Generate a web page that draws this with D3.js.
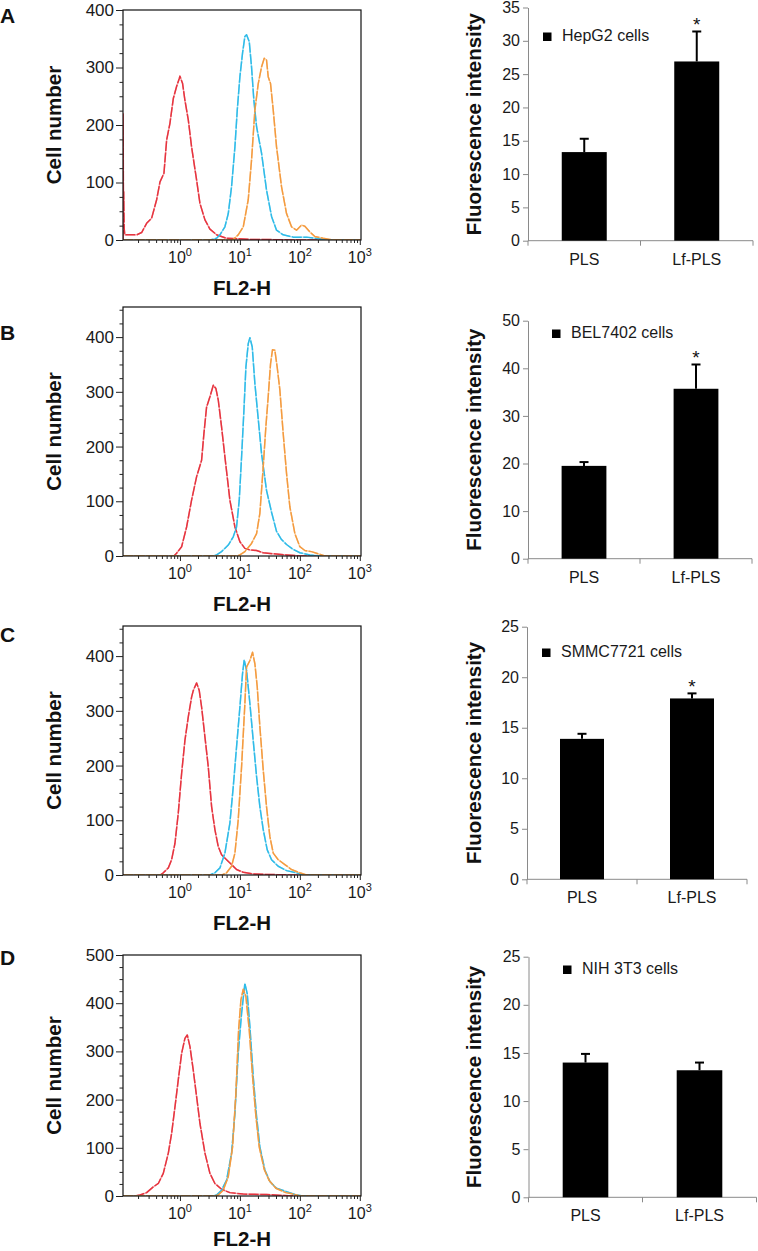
<!DOCTYPE html>
<html><head><meta charset="utf-8">
<script src="https://cdn.jsdelivr.net/npm/d3@7"></script>
<style>html,body{margin:0;padding:0;background:#fff;} svg{display:block;}</style>
</head><body>
<svg id="chart" width="758" height="1251"></svg>
<script>
// ---------- DATA ----------
// Histogram curves: [log10(FL2-H), cell number]
const A_red = [[-0.95,0],[-0.95,220],[-0.946,170],[-0.943,60],[-0.938,84],[-0.93,20],[-0.92,9],[-0.861,9],[-0.722,9],[-0.639,13],[-0.556,29],[-0.472,38],[-0.389,70],[-0.333,101],[-0.267,116],[-0.222,174],[-0.167,203],[-0.111,246],[-0.056,267],[-0.011,281],[0,285],[0.044,272],[0.083,243],[0.139,209],[0.194,162],[0.278,104],[0.333,64],[0.417,35],[0.5,19],[0.611,9],[0.778,3],[1.167,1],[1.72,0.5],[2.0,0],[3.02,0]];
const A_cyan = [[-0.95,0],[0.5,0],[0.611,3],[0.667,9],[0.75,23],[0.806,46],[0.861,93],[0.917,162],[0.956,226],[1.0,284],[1.044,325],[1.083,354],[1.111,357],[1.156,345],[1.194,301],[1.233,243],[1.278,197],[1.361,151],[1.444,87],[1.528,41],[1.611,17],[1.722,9],[1.889,5],[2.111,5],[2.333,2],[2.444,0],[3.02,0]];
const A_orange = [[-0.95,0],[0.8,0],[0.889,1],[0.972,9],[1.056,23],[1.139,70],[1.194,139],[1.25,226],[1.306,272],[1.361,301],[1.406,316],[1.444,313],[1.472,284],[1.511,272],[1.556,226],[1.611,162],[1.694,93],[1.778,46],[1.861,23],[1.944,17],[2.028,26],[2.083,24],[2.167,14],[2.25,6],[2.389,3],[2.5,1],[2.55,0],[3.02,0]];

const B_red = [[-0.95,0],[-0.1,0],[-0.056,5],[0.028,17],[0.111,53],[0.194,102],[0.278,145],[0.361,175],[0.4,224],[0.444,272],[0.5,291],[0.556,312],[0.6,306],[0.639,285],[0.694,236],[0.75,181],[0.833,102],[0.917,53],[1.0,26],[1.083,14],[1.167,11],[1.278,10],[1.389,6],[1.556,4],[1.778,2],[2.0,0],[3.02,0]];
const B_cyan = [[-0.95,0],[0.55,0],[0.611,2],[0.694,8],[0.806,20],[0.889,35],[0.944,53],[0.989,102],[1.028,181],[1.067,266],[1.1,345],[1.139,388],[1.167,399],[1.206,382],[1.25,315],[1.306,250],[1.361,187],[1.444,120],[1.528,80],[1.611,45],[1.694,30],[1.778,21],[1.889,12],[2.0,6],[2.167,2],[2.333,0],[3.02,0]];
const B_orange = [[-0.95,0],[0.95,0],[1.0,2],[1.083,8],[1.194,23],[1.278,41],[1.333,78],[1.389,163],[1.433,236],[1.472,291],[1.511,351],[1.544,377],[1.583,376],[1.622,345],[1.667,303],[1.722,224],[1.778,151],[1.833,90],[1.917,41],[2.0,17],[2.083,10],[2.194,8],[2.306,4],[2.417,0],[3.02,0]];

const C_red = [[-0.95,0],[-0.33,0],[-0.278,4],[-0.194,13],[-0.139,28],[-0.083,58],[-0.028,113],[0.028,186],[0.083,246],[0.139,289],[0.194,325],[0.222,337],[0.278,351],[0.322,337],[0.361,307],[0.417,252],[0.472,198],[0.528,125],[0.583,83],[0.639,52],[0.694,37],[0.778,28],[0.861,19],[0.944,10],[1.056,5],[1.222,2],[1.444,1],[1.889,0],[3.02,0]];
const C_cyan = [[-0.95,0],[0.5,0],[0.583,4],[0.667,13],[0.75,40],[0.833,95],[0.889,161],[0.944,234],[1.0,307],[1.044,368],[1.072,393],[1.111,374],[1.167,313],[1.222,246],[1.278,180],[1.333,125],[1.389,83],[1.456,46],[1.528,28],[1.639,16],[1.778,8],[1.944,4],[2.056,0],[3.02,0]];
const C_orange = [[-0.95,0],[0.7,0],[0.778,4],[0.861,16],[0.917,40],[0.972,101],[1.028,198],[1.083,313],[1.111,380],[1.167,392],[1.211,407],[1.25,386],[1.289,344],[1.333,271],[1.389,192],[1.444,125],[1.5,70],[1.556,40],[1.639,28],[1.75,19],[1.861,10],[2.0,4],[2.111,0],[3.02,0]];

const D_red = [[-0.95,0],[-0.75,0],[-0.667,2],[-0.556,7],[-0.444,19],[-0.361,26],[-0.278,47],[-0.194,89],[-0.139,130],[-0.083,185],[-0.028,241],[0.028,296],[0.083,327],[0.122,334],[0.167,310],[0.222,261],[0.278,206],[0.333,151],[0.417,89],[0.5,47],[0.583,26],[0.694,14],[0.833,7],[1.056,4],[1.444,3],[1.889,0],[3.02,0]];
const D_cyan = [[-0.95,0],[0.55,0],[0.611,2],[0.694,12],[0.778,33],[0.861,89],[0.917,172],[0.972,296],[1.028,379],[1.083,441],[1.122,420],[1.167,351],[1.222,248],[1.278,165],[1.333,102],[1.417,54],[1.5,30],[1.611,16],[1.778,9],[1.944,2],[2.056,0],[3.02,0]];
const D_orange = [[-0.95,0],[0.58,0],[0.639,2],[0.722,12],[0.806,40],[0.878,102],[0.933,213],[0.978,344],[1.017,407],[1.056,429],[1.1,414],[1.156,344],[1.211,248],[1.267,165],[1.322,102],[1.406,55],[1.489,32],[1.6,16],[1.767,7],[1.889,4],[2.0,0],[3.02,0]];

const histYMax = [400, 455, 455, 500];
const histXTicks = [1, 10, 100, 1000];
const histXTickExp = ["0", "1", "2", "3"];

// Bar charts
const barCategories = ["PLS", "Lf-PLS"];
const barMeanA = [13.3, 26.9], barErrA = [2.0, 4.5], sigA = ["", "*"];
const barMeanB = [19.5, 35.7], barErrB = [0.8, 5.1], sigB = ["", "*"];
const barMeanC = [13.9, 17.9], barErrC = [0.5, 0.5], sigC = ["", "*"];
const barMeanD = [14.0, 13.2], barErrD = [0.9, 0.8], sigD = ["", ""];
const barLegends = ["HepG2 cells", "BEL7402 cells", "SMMC7721 cells", "NIH 3T3 cells"];
const barYMax = [35, 50, 25, 25];
const barYStep = [5, 10, 5, 5];
const panelLetters = ["A", "B", "C", "D"];

// ---------- LAYOUT ----------
const FONT = "'Liberation Sans', Arial, Helvetica, sans-serif";
const COLORS = ["#e6343f", "#2fbbe8", "#f49b3f"];
const histLayout = [
  {top:10, bottom:240, letterY:23},
  {top:307, bottom:556, letterY:340},
  {top:626, bottom:875, letterY:642},
  {top:955, bottom:1196, letterY:965}
];
const barLayout = [
  {top:7.5, bottom:240.7, x0:528, x1:753, lx:543, ly:41},
  {top:320.7, bottom:558.7, x0:528, x1:752, lx:552, ly:338},
  {top:626.7, bottom:879.3, x0:527, x1:747, lx:542, ly:657},
  {top:956.7, bottom:1197.3, x0:528.5, x1:756.5, lx:563, ly:974}
];
const histCurves = [[A_red,A_cyan,A_orange],[B_red,B_cyan,B_orange],[C_red,C_cyan,C_orange],[D_red,D_cyan,D_orange]];
const barMeans = [barMeanA, barMeanB, barMeanC, barMeanD];
const barErrs = [barErrA, barErrB, barErrC, barErrD];
const barSigs = [sigA, sigB, sigC, sigD];

const svg = d3.select("#chart").style("font-family", FONT);

histLayout.forEach((L, i) => {
  const g = svg.append("g");
  const x = d3.scaleLog().domain([Math.pow(10,-0.95), Math.pow(10,3.02)]).range([123, 361]);
  const y = d3.scaleLinear().domain([0, histYMax[i]]).range([L.bottom, L.top]);

  svg.append("text").attr("x", 0).attr("y", L.letterY).attr("font-size", 21).attr("font-weight", "bold")
    .attr("fill", "#111").text(panelLetters[i]);

  const cid = "clip" + i;
  g.append("clipPath").attr("id", cid).append("rect")
    .attr("x", 123).attr("y", L.top).attr("width", 238).attr("height", L.bottom - L.top);

  const line = d3.line().x(d => x(Math.pow(10, d[0]))).y(d => y(d[1]));
  const cg = g.append("g").attr("clip-path", `url(#${cid})`);
  histCurves[i].forEach((c, k) => {
    cg.append("path").datum(c).attr("d", line).attr("fill", "none")
      .attr("stroke", COLORS[k]).attr("stroke-opacity", 0.45).attr("stroke-width", 1.4)
      .attr("stroke-linejoin", "round");
    cg.append("path").datum(c).attr("d", line).attr("fill", "none")
      .attr("stroke", COLORS[k]).attr("stroke-width", 1.5)
      .attr("stroke-dasharray", "10 1.5").attr("stroke-linejoin", "round");
  });

  g.append("rect").attr("x", 123).attr("y", L.top).attr("width", 238).attr("height", L.bottom - L.top)
    .attr("fill", "none").attr("stroke", "#111").attr("stroke-width", 1.2);

  const yMajor = d3.range(0, histYMax[i] + 1, 100);
  const yMinor = d3.range(0, histYMax[i] + 1, 25).filter(v => v % 100 !== 0);
  const ya = g.append("g").attr("transform", "translate(123,0)")
    .call(d3.axisLeft(y).tickValues(yMajor).tickSize(7).tickPadding(2).tickFormat(d3.format("d")));
  ya.select(".domain").remove();
  ya.selectAll("line").attr("stroke", "#222");
  ya.selectAll("text").attr("font-size", 17).attr("fill", "#1a1a1a").attr("font-family", FONT);
  const ym = g.append("g").attr("transform", "translate(123,0)")
    .call(d3.axisLeft(y).tickValues(yMinor).tickSize(3.5).tickFormat(""));
  ym.select(".domain").remove();
  ym.selectAll("line").attr("stroke", "#222");

  const xMinor = [];
  [-1, 0, 1, 2].forEach(e => { for (let m = 2; m <= 9; m++) { const v = m * Math.pow(10, e); if (v > x.domain()[0]) xMinor.push(v); } });
  const xa = g.append("g").attr("transform", `translate(0,${L.bottom})`)
    .call(d3.axisBottom(x).tickValues(histXTicks).tickSize(5).tickFormat(""));
  xa.select(".domain").remove();
  xa.selectAll("line").attr("stroke", "#222");
  const xm = g.append("g").attr("transform", `translate(0,${L.bottom})`)
    .call(d3.axisBottom(x).tickValues(xMinor).tickSize(3).tickFormat(""));
  xm.select(".domain").remove();
  xm.selectAll("line").attr("stroke", "#222");

  histXTicks.forEach((v, k) => {
    const t = g.append("text").attr("x", x(v)).attr("y", L.bottom + 23).attr("text-anchor", "middle")
      .attr("font-size", 16).attr("fill", "#1a1a1a");
    t.append("tspan").text("10");
    t.append("tspan").attr("dy", -7).attr("font-size", 11).text(histXTickExp[k]);
  });

  g.append("text").attr("x", 242).attr("y", Math.min(L.bottom + 55, 1246)).attr("text-anchor", "middle")
    .attr("font-size", 20.5).attr("font-weight", "bold").attr("fill", "#111").text("FL2-H");
  g.append("text").attr("transform", `translate(61,${(L.top + L.bottom) / 2}) rotate(-90)`)
    .attr("text-anchor", "middle").attr("font-size", 20.5).attr("font-weight", "bold").attr("fill", "#111")
    .text("Cell number");
});

barLayout.forEach((L, i) => {
  const g = svg.append("g");
  const x = d3.scaleBand().domain(barCategories).range([L.x0, L.x1]).paddingInner(0.6).paddingOuter(0.3);
  const y = d3.scaleLinear().domain([0, barYMax[i]]).range([L.bottom, L.top]);
  const axisColor = "#8a8a8a";

  const ya = g.append("g").attr("transform", `translate(${L.x0},0)`)
    .call(d3.axisLeft(y).tickValues(d3.range(0, barYMax[i] + 0.001, barYStep[i])).tickSize(5).tickPadding(3).tickSizeOuter(0));
  ya.select(".domain").attr("stroke", axisColor);
  ya.selectAll("line").attr("stroke", axisColor);
  ya.selectAll("text").attr("font-size", 16).attr("fill", "#1a1a1a").attr("font-family", FONT);

  const mid = (x(barCategories[0]) + x.bandwidth() + x(barCategories[1])) / 2;
  g.append("line").attr("x1", L.x0).attr("x2", L.x1).attr("y1", L.bottom).attr("y2", L.bottom).attr("stroke", axisColor);
  [L.x0, mid, L.x1].forEach(px => {
    g.append("line").attr("x1", px).attr("x2", px).attr("y1", L.bottom).attr("y2", L.bottom + 5).attr("stroke", axisColor);
  });
  barCategories.forEach(c => {
    g.append("text").attr("x", x(c) + x.bandwidth() / 2).attr("y", L.bottom + 24).attr("text-anchor", "middle")
      .attr("font-size", 16).attr("fill", "#1a1a1a").text(c);
  });

  const means = barMeans[i], errs = barErrs[i], sigs = barSigs[i];
  barCategories.forEach((c, k) => {
    const cx = x(c) + x.bandwidth() / 2;
    g.append("line").attr("x1", cx).attr("x2", cx).attr("y1", y(means[k])).attr("y2", y(means[k] + errs[k]))
      .attr("stroke", "#000").attr("stroke-width", 2);
    g.append("line").attr("x1", cx - 4.5).attr("x2", cx + 4.5).attr("y1", y(means[k] + errs[k])).attr("y2", y(means[k] + errs[k]))
      .attr("stroke", "#000").attr("stroke-width", 2);
    g.append("rect").attr("x", x(c)).attr("y", y(means[k])).attr("width", x.bandwidth())
      .attr("height", y(0) - y(means[k])).attr("fill", "#000");
    if (sigs[k]) {
      g.append("text").attr("x", cx).attr("y", y(means[k] + errs[k]) - 0.5).attr("text-anchor", "middle")
        .attr("font-size", 19).attr("fill", "#111").text(sigs[k]);
    }
  });

  g.append("rect").attr("x", L.lx).attr("y", L.ly - 8.5).attr("width", 8.5).attr("height", 8.5).attr("fill", "#000");
  g.append("text").attr("x", L.lx + 19).attr("y", L.ly).attr("font-size", 16).attr("fill", "#1a1a1a").text(barLegends[i]);

  g.append("text").attr("transform", `translate(481,${(L.top + L.bottom) / 2}) rotate(-90)`)
    .attr("text-anchor", "middle").attr("font-size", 20.5).attr("font-weight", "bold").attr("fill", "#111")
    .text("Fluorescence intensity");
});
</script>
</body></html>
